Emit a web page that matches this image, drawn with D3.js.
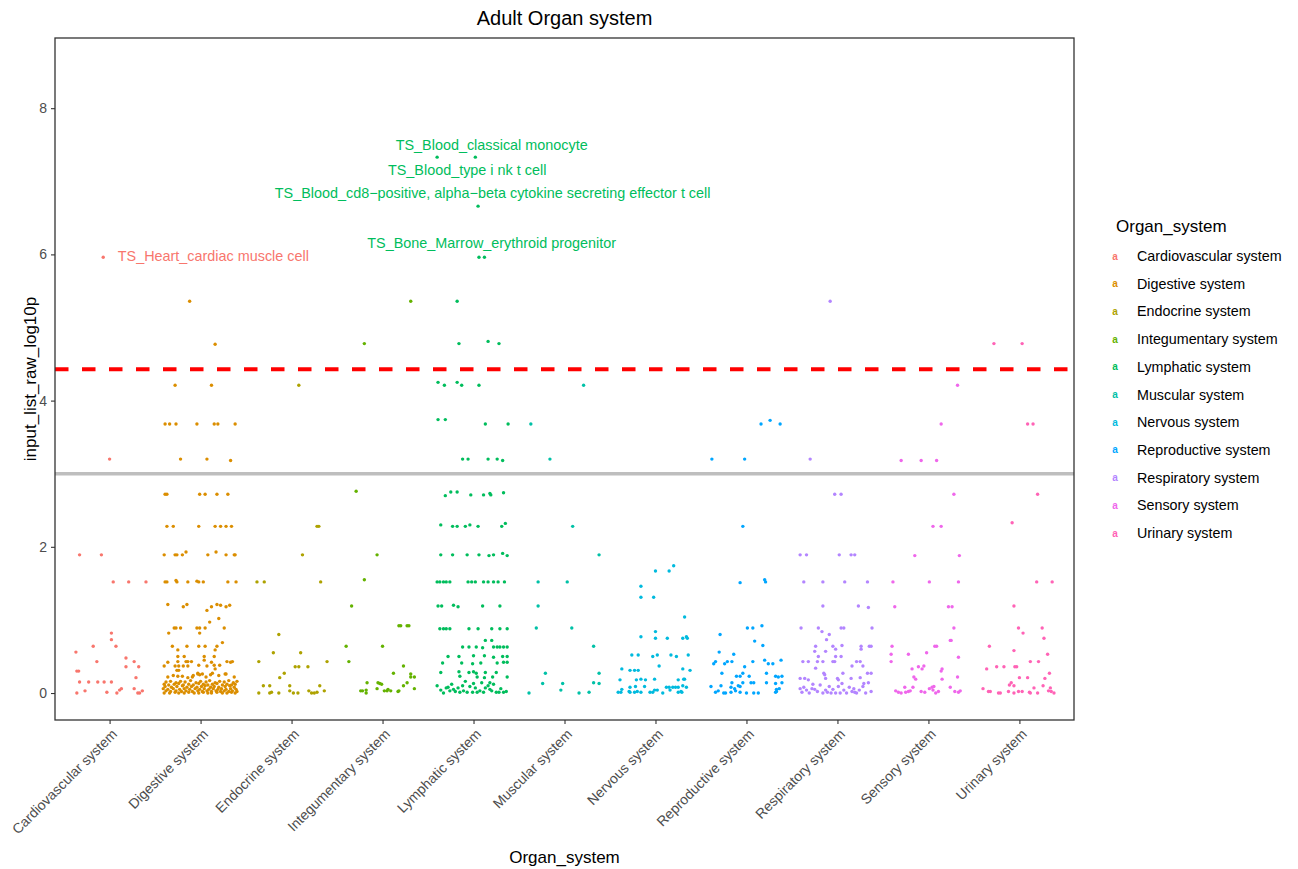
<!DOCTYPE html>
<html>
<head>
<meta charset="utf-8">
<script src="https://cdn.jsdelivr.net/npm/d3@7"></script>
<style>
  body { margin: 0; background: #fff; }
  text { font-family: "Liberation Sans", Arial, sans-serif; }
</style>
</head>
<body>
<div id="chart"></div>
<script>
// categories and ggplot hue colours
const organs = ["Cardiovascular system", "Digestive system", "Endocrine system", "Integumentary system",
  "Lymphatic system", "Muscular system", "Nervous system", "Reproductive system",
  "Respiratory system", "Sensory system", "Urinary system"];
const colors = ["#F8766D", "#DB8E00", "#AEA200", "#64B200", "#00BD5C", "#00C1A7",
  "#00BADE", "#00A6FF", "#B385FF", "#EF67EB", "#FF63B6"];

// points per system: [jitter (category units), input_list_raw_log10p]
const cardiovascular = [[-0.07,5.96],[0.0,3.20],[-0.33,1.89],[-0.09,1.89],[0.04,1.52],[0.21,1.52],[0.40,1.52],
  [0.02,0.82],[0.02,0.73],[-0.37,0.56],[-0.18,0.64],[0.07,0.64],[-0.14,0.43],[0.18,0.48],[0.18,0.36],[0.27,0.43],
  [0.32,0.36],[-0.36,0.30],[-0.34,0.30],[0.29,0.21],[-0.33,0.15],[-0.23,0.15],[-0.13,0.15],[-0.06,0.15],[0.02,0.15],
  [-0.27,0.03],[-0.36,0.0],[-0.03,0.01],[0.08,0.0],[0.11,0.04],[0.13,0.06],[0.27,0.06],[0.31,0.0],[0.33,0.0],[0.36,0.03]];

const digestive = [[-0.12,5.36],[0.16,4.77],[-0.28,4.21],[0.12,4.21],
  [-0.39,3.68],[-0.34,3.68],[-0.27,3.68],[-0.04,3.68],[0.15,3.68],[0.19,3.68],[0.38,3.68],
  [-0.22,3.20],[0.07,3.20],[0.33,3.18],
  [-0.39,2.72],[-0.37,2.72],[-0.01,2.72],[0.05,2.72],[0.18,2.72],[0.30,2.72],
  [-0.37,2.28],[-0.30,2.28],[-0.02,2.28],[0.16,2.28],[0.22,2.28],[0.28,2.28],[0.34,2.28],
  [-0.40,1.89],[-0.28,1.89],[-0.26,1.89],[-0.20,1.89],[-0.16,1.93],[0.08,1.89],[0.17,1.93],[0.28,1.89],[0.37,1.89],[0.38,1.89],
  [-0.39,1.52],[-0.37,1.52],[-0.27,1.54],[-0.26,1.52],[-0.14,1.52],[-0.04,1.53],[-0.02,1.52],[0.03,1.52],[0.30,1.52],[0.39,1.52],
  [-0.36,1.21],[-0.19,1.18],[-0.15,1.21],[0.07,1.13],[0.12,1.18],[0.18,1.21],[0.22,1.20],[0.28,1.18],[0.32,1.20],
  [0.20,1.02],[0.10,0.97],
  [-0.29,0.89],[-0.27,0.89],[-0.22,0.89],[-0.04,0.89],[-0.01,0.89],[0.05,0.89],[0.26,0.89],
  [-0.35,0.82],[-0.01,0.82],[0.24,0.69],
  [-0.31,0.64],[-0.15,0.64],[-0.02,0.64],[0.05,0.64],[0.18,0.64],[-0.25,0.59],[0.16,0.59],
  [-0.25,0.50],[-0.18,0.50],[0.04,0.50],[0.15,0.50],
  [-0.36,0.42],[-0.25,0.43],[-0.16,0.43],[-0.14,0.43],[-0.10,0.43],[0.04,0.45],[0.12,0.42],[0.29,0.43],[0.33,0.42],[0.35,0.43],
  [-0.40,0.37],[-0.28,0.37],[-0.24,0.37],[-0.19,0.37],[-0.14,0.37],[-0.02,0.38],[0.07,0.37],[0.15,0.38],[0.21,0.38],
  [-0.26,0.31],[-0.24,0.31],[-0.03,0.27],[0.16,0.33],[0.28,0.26],
  [-0.36,0.22],[-0.30,0.24],[-0.25,0.23],[-0.20,0.23],[-0.14,0.21],[-0.09,0.22],[-0.08,0.24],[-0.03,0.26],
  [-0.01,0.25],[0.02,0.26],[0.06,0.22],[0.11,0.25],[0.13,0.27],[0.20,0.24],[0.27,0.26],[0.37,0.22],
  [-0.38,0.15],[-0.33,0.16],[-0.27,0.14],[-0.22,0.16],[-0.17,0.15],[-0.11,0.17],[-0.05,0.14],[0.0,0.16],
  [0.06,0.15],[0.10,0.17],[0.16,0.14],[0.21,0.16],[0.26,0.15],[0.31,0.17],[0.36,0.14],[0.40,0.16],
  [-0.40,0.12],[-0.35,0.11],[-0.29,0.12],[-0.24,0.13],[-0.19,0.11],[-0.13,0.12],[-0.08,0.11],[-0.02,0.13],
  [0.03,0.12],[0.08,0.11],[0.13,0.12],[0.18,0.13],[0.24,0.11],[0.29,0.12],[0.34,0.11],[0.38,0.12],
  [-0.39,0.09],[-0.32,0.08],[-0.26,0.09],[-0.20,0.10],[-0.15,0.08],[-0.10,0.09],[-0.04,0.08],[0.01,0.09],
  [0.05,0.10],[0.11,0.08],[0.15,0.09],[0.20,0.08],[0.27,0.09],[0.32,0.10],[0.37,0.08],
  [-0.41,0.06],[-0.36,0.05],[-0.30,0.06],[-0.23,0.05],[-0.18,0.06],[-0.12,0.05],[-0.06,0.06],[-0.01,0.05],
  [0.04,0.06],[0.09,0.05],[0.14,0.06],[0.19,0.05],[0.23,0.06],[0.28,0.05],[0.33,0.06],[0.39,0.05],
  [-0.38,0.03],[-0.33,0.02],[-0.27,0.03],[-0.21,0.02],[-0.16,0.03],[-0.09,0.02],[-0.03,0.03],[0.02,0.02],
  [0.07,0.03],[0.12,0.02],[0.17,0.03],[0.22,0.02],[0.26,0.03],[0.31,0.02],[0.35,0.03],[0.40,0.02],
  [-0.40,0.0],[-0.34,0.0],[-0.28,0.01],[-0.24,0.0],[-0.18,0.0],[-0.13,0.01],[-0.07,0.0],[-0.02,0.0],
  [0.03,0.01],[0.08,0.0],[0.12,0.0],[0.18,0.01],[0.24,0.0],[0.29,0.0],[0.34,0.01],[0.38,0.0]];

const endocrine = [[0.08,4.21],[0.28,2.28],[0.30,2.28],[0.12,1.89],[-0.38,1.52],[-0.30,1.52],[0.32,1.52],
  [-0.14,0.80],[-0.20,0.55],[0.10,0.55],[-0.36,0.43],[0.39,0.43],[0.04,0.36],[0.08,0.36],[0.18,0.36],
  [-0.08,0.27],[-0.13,0.21],[-0.31,0.10],[-0.24,0.10],[-0.02,0.10],[0.31,0.10],[-0.02,0.03],[0.19,0.03],
  [0.36,0.03],[-0.36,0.0],[-0.24,0.0],[-0.22,0.01],[-0.14,0.0],[0.02,0.0],[0.07,0.0],[0.22,0.0],[0.25,0.0],[0.28,0.01]];

const integumentary = [[0.31,5.36],[-0.20,4.78],[-0.29,2.76],[-0.06,1.89],[-0.20,1.55],[-0.34,1.19],
  [0.18,0.92],[0.20,0.92],[0.27,0.92],[0.29,0.92],[-0.40,0.64],[0.0,0.64],[-0.37,0.43],[0.23,0.37],
  [0.12,0.27],[0.31,0.26],[0.35,0.22],[0.31,0.22],[-0.17,0.14],[-0.05,0.14],[-0.03,0.13],[-0.01,0.12],
  [0.27,0.14],[0.23,0.10],[-0.06,0.06],[0.35,0.06],[-0.24,0.03],[-0.22,0.03],[-0.18,0.04],[-0.18,0.0],
  [0.02,0.03],[0.05,0.03],[0.06,0.05],[0.09,0.03],[0.17,0.02],[0.18,0.03]];

const lymphatic = [[-0.40,7.33],[0.02,7.33],[0.05,6.66],[0.06,5.96],[0.12,5.96],[-0.18,5.36],
  [-0.16,4.78],[0.16,4.81],[0.28,4.78],
  [-0.39,4.25],[-0.32,4.21],[-0.18,4.25],[-0.13,4.21],[0.06,4.21],
  [-0.39,3.74],[-0.31,3.74],[0.13,3.68],[0.38,3.68],
  [-0.12,3.20],[-0.06,3.20],[0.16,3.20],[0.26,3.20],[0.32,3.18],
  [-0.31,2.70],[-0.25,2.75],[-0.18,2.75],[-0.03,2.71],[0.11,2.71],[0.18,2.73],[0.19,2.71],[0.33,2.74],
  [-0.36,2.30],[-0.23,2.28],[-0.18,2.28],[-0.09,2.28],[-0.04,2.30],[0.05,2.28],[0.31,2.28],[0.35,2.32],
  [-0.36,1.89],[-0.23,1.89],[-0.07,1.89],[0.06,1.89],[0.17,1.88],[0.22,1.89],[0.32,1.91],[0.37,1.88],
  [-0.40,1.52],[-0.37,1.52],[-0.33,1.52],[-0.30,1.52],[-0.26,1.52],[-0.06,1.52],[-0.02,1.52],[0.02,1.52],
  [0.11,1.52],[0.16,1.52],[0.22,1.52],[0.27,1.52],[0.34,1.52],
  [-0.39,1.19],[-0.35,1.19],[-0.22,1.20],[-0.17,1.18],[0.10,1.19],[0.29,1.19],
  [-0.37,0.88],[-0.33,0.88],[-0.30,0.88],[-0.26,0.88],[-0.05,0.88],[0.05,0.88],[0.20,0.88],[0.29,0.88],[0.37,0.88],
  [0.13,0.72],[0.20,0.72],
  [-0.12,0.63],[-0.05,0.63],[0.03,0.63],[0.10,0.62],[0.22,0.63],[0.26,0.63],[0.29,0.63],[0.33,0.63],[0.37,0.63],
  [-0.28,0.50],[-0.16,0.50],[0.0,0.51],[0.12,0.51],[0.22,0.49],[0.32,0.50],[0.37,0.50],
  [-0.34,0.41],[-0.13,0.41],[-0.01,0.40],[0.08,0.41],[0.26,0.41],[0.33,0.42],[0.37,0.42],
  [-0.36,0.28],[-0.16,0.29],[-0.05,0.28],[0.0,0.29],[0.03,0.27],[0.13,0.28],[0.25,0.28],
  [-0.15,0.23],[0.04,0.22],[0.12,0.21],[0.21,0.22],[0.37,0.22],[0.18,0.14],
  [-0.40,0.10],[-0.30,0.07],[-0.28,0.08],[-0.26,0.03],[-0.22,0.05],[-0.20,0.02],[-0.17,0.07],[-0.15,0.01],
  [-0.12,0.10],[-0.11,0.03],[-0.07,0.01],[-0.04,0.09],[-0.01,0.01],[0.02,0.07],[0.04,0.01],[0.07,0.03],
  [0.11,0.01],[0.13,0.07],[0.16,0.10],[0.18,0.05],[0.20,0.03],[0.25,0.01],[0.28,0.01],[0.33,0.01],
  [-0.33,0.0],[-0.24,0.12],[0.09,0.14],[0.30,0.06],[0.36,0.02],[-0.36,0.04],[0.22,0.12],[-0.09,0.16],[0.0,0.13]];

const muscular = [[0.21,4.21],[-0.37,3.68],[-0.16,3.20],[0.09,2.28],[0.38,1.89],[-0.29,1.52],[0.03,1.52],
  [-0.29,1.19],[-0.31,0.89],[0.08,0.89],[0.32,0.64],[-0.21,0.27],[0.38,0.27],[-0.24,0.13],[-0.02,0.13],
  [0.32,0.14],[0.38,0.13],[-0.39,0.0],[-0.04,0.04],[0.16,0.0],[0.27,0.01]];

const nervous = [[0.20,1.74],[0.0,1.67],[0.15,1.67],[-0.16,1.46],[-0.16,1.31],[-0.02,1.31],[0.32,1.04],[0.0,0.84],
  [-0.16,0.77],[0.0,0.75],[0.13,0.75],[0.30,0.75],[0.34,0.77],[0.35,0.75],
  [-0.26,0.52],[-0.19,0.52],[-0.03,0.50],[0.02,0.52],[0.17,0.52],[0.23,0.50],[0.36,0.52],[0.04,0.37],
  [-0.37,0.33],[-0.28,0.31],[-0.23,0.31],[-0.19,0.31],[0.30,0.33],[0.38,0.31],
  [-0.39,0.18],[-0.21,0.18],[-0.16,0.19],[-0.11,0.18],[-0.01,0.19],[0.25,0.18],[0.31,0.19],[0.32,0.19],
  [-0.37,0.05],[-0.28,0.08],[-0.22,0.09],[-0.12,0.09],[0.12,0.08],[0.15,0.08],[0.19,0.08],[0.22,0.08],
  [0.25,0.08],[0.30,0.10],[0.34,0.08],
  [-0.41,0.01],[-0.38,0.01],[-0.29,0.02],[-0.28,0.01],[-0.23,0.01],[-0.20,0.02],[-0.16,0.01],[-0.06,0.01],
  [-0.03,0.01],[-0.01,0.04],[0.02,0.04],[0.08,0.0],[0.16,0.04],[0.25,0.01],[0.28,0.02],[0.29,0.01]];

const reproductive = [[0.16,3.68],[0.26,3.73],[0.37,3.68],[-0.38,3.20],[-0.02,3.20],[-0.04,2.28],
  [-0.07,1.51],[0.20,1.55],[0.21,1.52],[-0.29,0.80],[0.01,0.89],[0.07,0.89],[0.17,0.92],[0.09,0.71],[0.18,0.65],
  [-0.30,0.56],[-0.14,0.53],[-0.34,0.43],[-0.21,0.43],[-0.16,0.43],[0.07,0.43],[0.20,0.45],[0.38,0.45],
  [-0.36,0.40],[0.24,0.40],[0.29,0.40],[-0.24,0.40],[-0.02,0.36],[-0.27,0.27],[-0.04,0.27],[0.22,0.27],
  [-0.11,0.23],[-0.07,0.23],[0.03,0.23],[0.32,0.23],[0.39,0.23],[0.35,0.22],
  [-0.16,0.14],[-0.04,0.14],[0.05,0.14],[0.08,0.14],[0.22,0.14],[0.32,0.13],[0.39,0.14],
  [-0.39,0.09],[-0.28,0.10],[-0.17,0.08],[-0.13,0.06],[-0.09,0.10],[-0.07,0.09],[0.36,0.06],[0.33,0.05],
  [-0.34,0.01],[-0.31,0.03],[-0.25,0.0],[-0.23,0.0],[-0.17,0.01],[-0.12,0.03],[-0.07,0.01],[0.0,0.0],
  [0.08,0.0],[0.13,0.0],[0.32,0.01],[0.33,0.02]];

const respiratory = [[-0.08,5.36],[-0.30,3.20],[-0.03,2.72],[0.04,2.72],
  [-0.41,1.89],[-0.34,1.89],[0.02,1.89],[0.15,1.89],[0.19,1.89],
  [-0.37,1.52],[-0.16,1.52],[0.08,1.52],[0.33,1.52],[-0.16,1.19],[0.23,1.19],[0.34,1.17],
  [-0.40,0.89],[-0.21,0.89],[0.04,0.89],[0.07,0.89],[0.38,0.89],[-0.17,0.84],[-0.09,0.80],[-0.12,0.73],
  [-0.24,0.64],[-0.05,0.64],[0.05,0.65],[0.26,0.64],[0.35,0.64],[0.37,0.64],
  [-0.25,0.57],[-0.13,0.57],[-0.02,0.60],[0.26,0.60],[-0.21,0.50],[-0.02,0.50],[0.04,0.50],
  [-0.38,0.43],[-0.32,0.43],[-0.22,0.43],[-0.16,0.43],[-0.05,0.43],[-0.03,0.43],[0.21,0.43],[0.25,0.43],
  [-0.24,0.34],[0.16,0.37],[0.28,0.37],[-0.15,0.27],[-0.14,0.25],[0.06,0.27],[0.33,0.27],[0.37,0.27],
  [-0.41,0.20],[-0.36,0.20],[-0.32,0.18],[-0.13,0.20],[0.0,0.20],[0.01,0.18],[0.15,0.20],[0.25,0.21],[0.29,0.13],
  [-0.41,0.06],[-0.37,0.08],[-0.34,0.04],[-0.31,0.0],[-0.28,0.06],[-0.25,0.05],[-0.22,0.02],[-0.19,0.11],
  [-0.16,0.0],[-0.13,0.04],[-0.09,0.09],[-0.07,0.0],[-0.05,0.05],[-0.02,0.0],[0.01,0.09],[0.03,0.0],
  [0.07,0.04],[0.10,0.0],[0.13,0.08],[0.16,0.02],[0.18,0.06],[0.21,0.0],[0.24,0.04],[0.28,0.09],
  [0.31,0.0],[0.34,0.14],[0.37,0.02],[-0.39,0.01],[-0.27,0.12],[-0.11,0.01],[0.05,0.13],[0.19,0.01]];

const sensory = [[0.32,4.21],[0.14,3.68],[-0.30,3.18],[-0.08,3.18],[0.09,3.18],[0.28,2.72],[0.05,2.28],[0.14,2.28],
  [-0.15,1.88],[0.34,1.88],[-0.39,1.52],[0.01,1.52],[0.33,1.52],[-0.37,1.18],[0.22,1.18],[0.26,1.18],
  [0.28,0.89],[0.24,0.72],[0.25,0.72],[-0.40,0.64],[0.07,0.64],[0.09,0.64],[-0.41,0.53],[-0.22,0.53],
  [-0.02,0.55],[0.33,0.49],[-0.41,0.43],[-0.18,0.33],[-0.11,0.36],[-0.07,0.33],[-0.05,0.37],[0.15,0.33],[0.14,0.30],
  [-0.16,0.22],[-0.14,0.19],[0.15,0.19],[0.32,0.22],[-0.26,0.08],[-0.17,0.08],[0.01,0.06],[0.04,0.08],
  [0.06,0.09],[0.24,0.08],[-0.36,0.03],[-0.33,0.01],[-0.30,0.0],[-0.25,0.01],[-0.22,0.02],[-0.20,0.03],
  [-0.08,0.02],[-0.04,0.01],[0.05,0.04],[0.08,0.0],[0.11,0.02],[0.29,0.02],[0.33,0.01],[0.35,0.03]];

const urinary = [[-0.28,4.78],[0.03,4.78],[0.09,3.68],[0.15,3.68],[0.20,2.72],[-0.08,2.33],[0.19,1.52],[0.36,1.52],
  [-0.06,1.19],[-0.01,0.89],[0.25,0.89],[0.04,0.82],[0.27,0.75],[-0.33,0.64],[-0.06,0.58],[0.31,0.53],
  [0.12,0.43],[0.21,0.43],[-0.36,0.33],[-0.25,0.36],[-0.17,0.36],[-0.05,0.36],[-0.03,0.36],[0.33,0.27],
  [0.0,0.21],[0.09,0.21],[0.28,0.20],[-0.09,0.14],[-0.11,0.11],[-0.06,0.10],[0.26,0.10],[0.34,0.07],[0.16,0.07],
  [-0.40,0.06],[-0.34,0.02],[-0.32,0.02],[-0.23,0.0],[-0.21,0.0],[-0.12,0.02],[-0.06,0.0],[-0.01,0.02],
  [0.03,0.02],[0.11,0.01],[0.12,0.0],[0.20,0.0],[0.32,0.03],[0.35,0.02],[0.38,0.0]];

const pointsBySystem = [cardiovascular, digestive, endocrine, integumentary, lymphatic, muscular,
  nervous, reproductive, respiratory, sensory, urinary];

const yTicks = [0, 2, 4, 6, 8];
const redCutoff = 4.43;
const greyCutoff = 3;

// labelled cell types: system, jitter, value, text
const labels = [
  { organ: "Cardiovascular system", dx: 0.09, y: 5.98, text: "TS_Heart_cardiac muscle cell", anchor: "start" },
  { organ: "Lymphatic system", dx: 0.20, y: 7.50, text: "TS_Blood_classical monocyte", anchor: "middle" },
  { organ: "Lymphatic system", dx: -0.07, y: 7.15, text: "TS_Blood_type i nk t cell", anchor: "middle" },
  { organ: "Lymphatic system", dx: 0.21, y: 6.84, text: "TS_Blood_cd8\u2212positive, alpha\u2212beta cytokine secreting effector t cell", anchor: "middle" },
  { organ: "Lymphatic system", dx: 0.20, y: 6.16, text: "TS_Bone_Marrow_erythroid progenitor", anchor: "middle" }
];

// layout
const W = 1298, H = 869;
const panel = { left: 55, top: 38, right: 1074, bottom: 720 };

const svg = d3.select("#chart").append("svg")
  .attr("width", W).attr("height", H)
  .style("background", "#fff");

const x = d3.scalePoint()
  .domain(organs)
  .range([panel.left, panel.right])
  .padding(0.6);

const y = d3.scaleLinear()
  .domain([-0.369, 8.96])
  .range([panel.bottom, panel.top]);

const color = d3.scaleOrdinal().domain(organs).range(colors);

// title
svg.append("text")
  .attr("x", (panel.left + panel.right) / 2)
  .attr("y", 25)
  .attr("text-anchor", "middle")
  .style("font-size", "20px")
  .attr("fill", "#000")
  .text("Adult Organ system");

// reference lines
svg.append("line")
  .attr("x1", panel.left).attr("x2", panel.right)
  .attr("y1", y(greyCutoff)).attr("y2", y(greyCutoff))
  .attr("stroke", "#BEBEBE").attr("stroke-width", 3.5);

// points
const flat = [];
pointsBySystem.forEach((pts, i) => {
  pts.forEach(p => flat.push({ organ: organs[i], dx: p[0], v: p[1] }));
});

svg.append("g")
  .selectAll("circle")
  .data(flat)
  .enter().append("circle")
  .attr("cx", d => x(d.organ) + d.dx * x.step())
  .attr("cy", d => y(d.v))
  .attr("r", 1.7)
  .attr("fill", d => color(d.organ));

svg.append("line")
  .attr("x1", panel.left).attr("x2", panel.right)
  .attr("y1", y(redCutoff)).attr("y2", y(redCutoff))
  .attr("stroke", "#FF0000").attr("stroke-width", 4)
  .attr("stroke-dasharray", "13.5,13.5");

// labels
svg.append("g")
  .selectAll("text")
  .data(labels)
  .enter().append("text")
  .attr("x", d => x(d.organ) + d.dx * x.step())
  .attr("y", d => y(d.y))
  .attr("dy", "0.35em")
  .attr("text-anchor", d => d.anchor)
  .attr("fill", d => color(d.organ))
  .style("font-size", "14.4px")
  .text(d => d.text);

// panel border
svg.append("rect")
  .attr("x", panel.left).attr("y", panel.top)
  .attr("width", panel.right - panel.left)
  .attr("height", panel.bottom - panel.top)
  .attr("fill", "none")
  .attr("stroke", "#333333")
  .attr("stroke-width", 1.3);

// y axis
const yAxis = svg.append("g")
  .attr("transform", `translate(${panel.left},0)`)
  .call(d3.axisLeft(y).tickValues(yTicks).tickSize(4).tickPadding(4));
yAxis.select(".domain").remove();
yAxis.selectAll("line").attr("stroke", "#333333").attr("stroke-width", 1.1);
yAxis.selectAll("text").attr("fill", "#4D4D4D").style("font-size", "14px")
  .style("font-family", "'Liberation Sans', Arial, sans-serif");

// x axis
const xAxis = svg.append("g")
  .attr("transform", `translate(0,${panel.bottom})`)
  .call(d3.axisBottom(x).tickSize(4));
xAxis.select(".domain").remove();
xAxis.selectAll("line").attr("stroke", "#333333").attr("stroke-width", 1.1);
xAxis.selectAll("text")
  .attr("fill", "#4D4D4D")
  .style("font-size", "14px")
  .style("font-family", "'Liberation Sans', Arial, sans-serif")
  .attr("text-anchor", "end")
  .attr("y", 0).attr("dy", "0.7em")
  .attr("transform", "translate(1,8) rotate(-45)");

// axis titles
svg.append("text")
  .attr("x", (panel.left + panel.right) / 2)
  .attr("y", 863)
  .attr("text-anchor", "middle")
  .style("font-size", "17px")
  .text("Organ_system");

svg.append("text")
  .attr("transform", `translate(36,${(panel.top + panel.bottom) / 2}) rotate(-90)`)
  .attr("text-anchor", "middle")
  .style("font-size", "17px")
  .text("input_list_raw_log10p");

// legend
const legend = svg.append("g").attr("transform", "translate(1115,0)");
legend.append("text")
  .attr("x", 1).attr("y", 232)
  .style("font-size", "17px")
  .text("Organ_system");

const items = legend.selectAll(".item")
  .data(organs)
  .enter().append("g")
  .attr("class", "item")
  .attr("transform", (d, i) => `translate(0,${256 + i * 27.7})`);

items.append("text")
  .attr("x", 0).attr("dy", "0.35em")
  .attr("text-anchor", "middle")
  .attr("fill", d => color(d))
  .style("font-size", "10px")
  .style("font-weight", "bold")
  .text("a");

items.append("text")
  .attr("x", 22).attr("dy", "0.35em")
  .style("font-size", "14.3px")
  .attr("fill", "#000")
  .text(d => d);
</script>
</body>
</html>
